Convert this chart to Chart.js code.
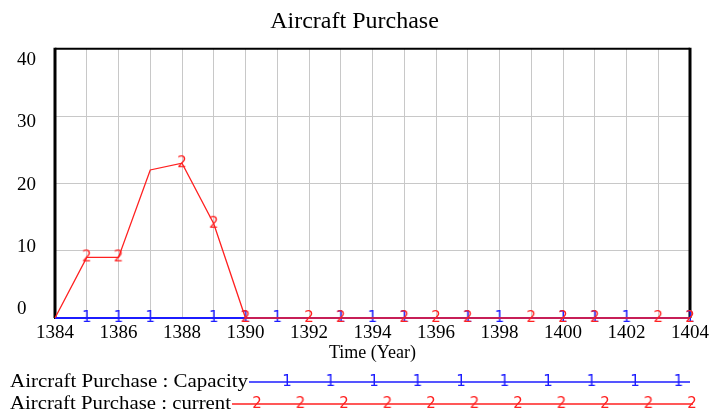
<!DOCTYPE html>
<html>
<head>
<meta charset="utf-8">
<title>Aircraft Purchase</title>
<script src="https://cdn.jsdelivr.net/npm/chart.js@4.4.1/dist/chart.umd.min.js"></script>
<style>
  html, body { margin: 0; padding: 0; background: #fff; }
  canvas { display: block; }
</style>
</head>
<body>
<canvas id="chart" width="713" height="412"></canvas>
<script>
const years = [1384, 1385, 1386, 1387, 1388, 1389, 1390, 1391, 1392, 1393, 1394,
               1395, 1396, 1397, 1398, 1399, 1400, 1401, 1402, 1403, 1404];
const capacity = [0, 0, 0, 0, 0, 0, 0, 0, 0, 0, 0, 0, 0, 0, 0, 0, 0, 0, 0, 0, 0];
const current = [0, 9, 9, 22, 23, 14, 0, 0, 0, 0, 0, 0, 0, 0, 0, 0, 0, 0, 0, 0, 0];
// years where vensim put its "1" / "2" markers
const capacityMarks = [1385, 1386, 1387, 1389, 1390, 1391, 1393, 1394, 1395, 1397, 1398, 1400, 1401, 1402, 1404];
const currentMarks = [1385, 1386, 1388, 1389, 1390, 1392, 1393, 1395, 1396, 1397, 1399, 1400, 1401, 1403, 1404];
const xTickLabels = [1384, 1386, 1388, 1390, 1392, 1394, 1396, 1398, 1400, 1402, 1404];
const yTickLabels = [0, 10, 20, 30, 40];
const seriesNames = ['Aircraft Purchase : Capacity', 'Aircraft Purchase : current'];

const serif = "'Liberation Serif', 'Times New Roman', serif";
const blue = '#1c1cff';
const red = '#ff2020';

function markerImage(text, color) {
    const c = document.createElement('canvas');
    c.width = 14;
    c.height = 18;
    const g = c.getContext('2d');
    g.fillStyle = color;
    g.font = "15px 'DejaVu Sans'";
    g.textAlign = 'center';
    g.textBaseline = 'middle';
    g.fillText(text, 7, 9.5);
    return c;
}
const blueMark = markerImage('1', blue);
const redMark = markerImage('2', red);

// left, top and right frame lines of the plot box
const framePlugin = {
    id: 'frame',
    beforeDatasetsDraw(chart) {
        const { ctx, chartArea: a } = chart;
        ctx.save();
        ctx.strokeStyle = '#000';
        ctx.lineWidth = 2;
        ctx.beginPath();
        ctx.moveTo(a.left, a.top);
        ctx.lineTo(a.right, a.top);
        ctx.stroke();
        ctx.lineWidth = 3;
        ctx.beginPath();
        ctx.moveTo(a.left, a.top - 1);
        ctx.lineTo(a.left, a.bottom);
        ctx.moveTo(a.right, a.top - 1);
        ctx.lineTo(a.right, a.bottom);
        ctx.stroke();
        ctx.restore();
    }
};

// vensim style legend: name, then a line with number markers
const legendPlugin = {
    id: 'vensimLegend',
    afterDraw(chart) {
        const ctx = chart.ctx;
        const rows = [
            { name: seriesNames[0], color: blue, mark: blueMark, textEnd: 249, y: 382, lineEnd: 690, first: 287, count: 10 },
            { name: seriesNames[1], color: red, mark: redMark, textEnd: 232, y: 404, lineEnd: 693, first: 257, count: 11 }
        ];
        ctx.save();
        rows.forEach(row => {
            ctx.font = '18px ' + serif;
            ctx.fillStyle = '#000';
            ctx.textBaseline = 'middle';
            ctx.textAlign = 'left';
            const w = ctx.measureText(row.name).width;
            ctx.save();
            ctx.translate(10, row.y);
            ctx.scale((row.textEnd - 11) / w, 1);
            ctx.fillText(row.name, 0, 0);
            ctx.restore();

            ctx.strokeStyle = row.color;
            ctx.lineWidth = 1.3;
            ctx.beginPath();
            ctx.moveTo(row.textEnd, row.y);
            ctx.lineTo(row.lineEnd, row.y);
            ctx.stroke();
            for (let i = 0; i < row.count; i++) {
                const x = row.first + i * 43.5;
                ctx.drawImage(row.mark, x - row.mark.width / 2, row.y - row.mark.height / 2);
            }
        });
        ctx.restore();
    }
};

function points(values) {
    return years.map((x, i) => ({ x: x, y: values[i] }));
}

new Chart(document.getElementById('chart'), {
    type: 'line',
    data: {
        datasets: [
            {
                label: seriesNames[1],
                data: points(current),
                borderColor: red,
                borderWidth: 1.3,
                pointStyle: redMark,
                pointRadius: years.map(y => currentMarks.includes(y) ? 6 : 0),
                pointHoverRadius: 0,
                tension: 0,
                clip: false
            },
            {
                label: seriesNames[0],
                data: points(capacity),
                borderColor: blue,
                borderWidth: 2,
                pointStyle: blueMark,
                pointRadius: years.map(y => capacityMarks.includes(y) ? 6 : 0),
                pointHoverRadius: 0,
                tension: 0,
                clip: false
            }
        ]
    },
    options: {
        responsive: false,
        animation: false,
        devicePixelRatio: 1,
        layout: { padding: { left: 17, right: 21, top: 0, bottom: 46 } },
        plugins: {
            legend: { display: false },
            tooltip: { enabled: false },
            title: {
                display: true,
                text: 'Aircraft Purchase',
                color: '#000',
                font: { family: serif, size: 24, weight: 'normal' },
                padding: { top: 7, bottom: 13 }
            }
        },
        scales: {
            x: {
                type: 'linear',
                min: 1384,
                max: 1404,
                grid: { color: '#c8c8c8', drawTicks: false },
                border: { color: '#000', width: 2 },
                ticks: {
                    stepSize: 1,
                    autoSkip: false,
                    maxRotation: 0,
                    padding: 4,
                    color: '#000',
                    font: { family: serif, size: 19 },
                    callback: v => xTickLabels.includes(v) ? String(v) : ''
                },
                title: {
                    display: true,
                    text: 'Time (Year)',
                    color: '#000',
                    font: { family: serif, size: 18 },
                    padding: { top: 0, bottom: 2 }
                },
                afterFit: s => { s.height = 48; }
            },
            y: {
                min: 0,
                max: 40,
                grid: { color: '#c8c8c8', drawTicks: false },
                border: { display: false },
                ticks: { display: false, stepSize: 10 },
                afterFit: s => { s.width = 0; }
            },
            // labels only, spread the way vensim spreads them
            yLabels: {
                position: 'left',
                weight: 1,
                min: -1.45,
                max: 41.85,
                grid: { display: false },
                border: { display: false },
                ticks: {
                    crossAlign: 'far',
                    color: '#000',
                    font: { family: serif, size: 19 }
                },
                afterBuildTicks: s => { s.ticks = yTickLabels.map(v => ({ value: v })); },
                afterFit: s => { s.width = 38; }
            }
        }
    },
    plugins: [framePlugin, legendPlugin]
});
</script>
</body>
</html>
